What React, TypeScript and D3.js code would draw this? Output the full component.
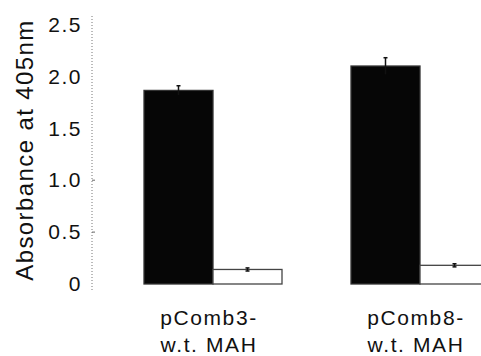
import { useRef, useEffect } from "react";
import * as d3 from "d3";

const groups = ["pComb3-\nw.t. MAH", "pComb8-\nw.t. MAH"];
const series = ["antibody", "control"];
const antibodyValues = [1.865, 2.1];
const antibodyErrors = [0.045, 0.08];
const controlValues = [0.14, 0.18];
const controlErrors = [0.015, 0.015];
const yTicks = [0, 0.5, 1.0, 1.5, 2.0, 2.5];
const yLabel = "Absorbance at 405nm";

export default function App() {
  const svgRef = useRef<SVGSVGElement>(null);

  useEffect(() => {
    if (!svgRef.current) return;
    const font = "Arial, 'Liberation Sans', Helvetica, sans-serif";

    const svg = d3.select(svgRef.current);
    svg.selectAll("*").remove();

    const x = d3
      .scaleBand<string>()
      .domain(groups)
      .range([144, 489])
      .paddingInner(1 / 3)
      .paddingOuter(0);

    const xs = d3
      .scaleBand<string>()
      .domain(series)
      .range([0, x.bandwidth()])
      .padding(0);

    const y = d3.scaleLinear().domain([0, 2.5]).range([284, 24.5]);

    // Y axis (dotted)
    svg
      .append("line")
      .attr("x1", 92)
      .attr("x2", 92)
      .attr("y1", 16)
      .attr("y2", 290)
      .attr("stroke", "#777")
      .attr("stroke-width", 1)
      .attr("stroke-dasharray", "1,2");

    const g = svg.append("g").attr("transform", "translate(92,0)");
    g.call(
      d3
        .axisLeft(y)
        .tickValues(yTicks)
        .tickSize(0)
        .tickPadding(10)
        .tickFormat((d) => (d === 0 ? "0" : d3.format(".1f")(d as number)))
    )
      .call((g) => g.select(".domain").remove())
      .call((g) =>
        g
          .selectAll(".tick text")
          .attr("fill", "#111")
          .attr("font-size", 21)
          .attr("font-family", font)
          .attr("letter-spacing", 1.5)
      );

    // small tick marks
    svg
      .selectAll(".mini")
      .data([0.5, 1.0])
      .join("line")
      .attr("x1", 92)
      .attr("x2", 95)
      .attr("y1", (d) => y(d))
      .attr("y2", (d) => y(d))
      .attr("stroke", "#666");

    // Y label
    svg
      .append("text")
      .attr("transform", `translate(33,${150}) rotate(-90)`)
      .attr("text-anchor", "middle")
      .attr("font-size", 24)
      .attr("font-family", font)
      .attr("letter-spacing", 1.4)
      .attr("fill", "#111")
      .text(yLabel);

    const rows = groups.map((grp, i) => ({
      grp,
      bars: [
        { key: series[0], v: antibodyValues[i], e: antibodyErrors[i] },
        { key: series[1], v: controlValues[i], e: controlErrors[i] },
      ],
    }));

    const gg = svg
      .selectAll(".grp")
      .data(rows)
      .join("g")
      .attr("transform", (d) => `translate(${x(d.grp)},0)`);

    gg.selectAll("rect")
      .data((d) => d.bars)
      .join("rect")
      .attr("x", (d) => xs(d.key)!)
      .attr("width", xs.bandwidth())
      .attr("y", (d) => y(d.v))
      .attr("height", (d) => y(0) - y(d.v))
      .attr("fill", (d) => (d.key === series[0] ? "#060606" : "#fff"))
      .attr("stroke", (d) => (d.key === series[0] ? "#333" : "#444"))
      .attr("stroke-width", 1.3);

    // error bars
    gg.selectAll(".err")
      .data((d) => d.bars)
      .join("g")
      .each(function (d) {
        const cx = xs(d.key)! + xs.bandwidth() / 2;
        const sel = d3.select(this);
        sel
          .append("line")
          .attr("x1", cx)
          .attr("x2", cx)
          .attr("y1", y(d.v - d.e))
          .attr("y2", y(d.v + d.e))
          .attr("stroke", "#111")
          .attr("stroke-width", 1.5);
        sel
          .append("line")
          .attr("x1", cx - 2)
          .attr("x2", cx + 2)
          .attr("y1", y(d.v + d.e))
          .attr("y2", y(d.v + d.e))
          .attr("stroke", "#111")
          .attr("stroke-width", 1.5);
        if (d.key === series[1]) {
          sel
            .append("line")
            .attr("x1", cx - 2)
            .attr("x2", cx + 2)
            .attr("y1", y(d.v - d.e))
            .attr("y2", y(d.v - d.e))
            .attr("stroke", "#111")
            .attr("stroke-width", 1.5);
        }
      });

    // category labels
    const cx = (grp: string) => x(grp)! + x.bandwidth() / 2 - 4;
    const lab = svg
      .selectAll(".lab")
      .data(groups)
      .join("text")
      .attr("text-anchor", "middle")
      .attr("font-size", 21)
      .attr("font-family", font)
      .attr("letter-spacing", 1.6)
      .attr("fill", "#111");
    lab
      .selectAll("tspan")
      .data((d) => d.split("\n").map((t) => ({ t, grp: d })))
      .join("tspan")
      .attr("x", (d) => cx(d.grp))
      .attr("y", (d, i) => 325 + i * 27)
      .text((d) => d.t);
  }, []);

  return (
    <svg
      ref={svgRef}
      width={481}
      height={356}
      style={{ position: "absolute", left: 0, top: 0, background: "#fff" }}
    />
  );
}
